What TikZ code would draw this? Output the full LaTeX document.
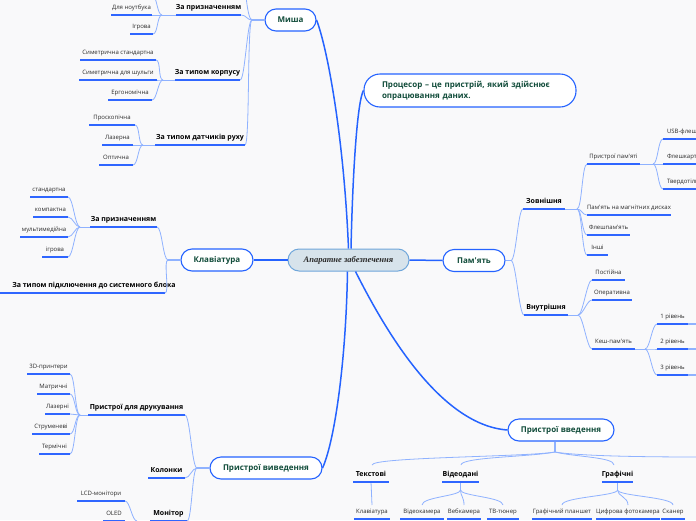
\documentclass[tikz,border=0pt]{standalone}
\usepackage{fontspec}
\usetikzlibrary{calc}
\newfontfamily\osans{Open Sans}
\newfontfamily\lserif{Liberation Serif}
\definecolor{bgc}{HTML}{F9F9FA}
\definecolor{mainblue}{HTML}{2563FF}
\definecolor{ulblue}{HTML}{2F66FF}
\definecolor{lightb}{HTML}{8FB2FF}
\definecolor{dkgreen}{HTML}{124D3B}
\definecolor{txt}{HTML}{2A2A2A}
\definecolor{ctrfill}{HTML}{D7E3EB}
\definecolor{ctrdraw}{HTML}{6FA6DA}
\newcommand\lcurve[2]{\draw[con] (#1) .. controls +(-5,0) and +(5,0) .. (#2);}
\newcommand\rcurve[2]{\draw[con] (#1) .. controls +(5,0) and +(-5,0) .. (#2);}
\newcommand\dcurve[2]{\draw[con] (#1) .. controls +(0,6) and +(0,-8) .. (#2);}
\begin{document}
\begin{tikzpicture}[x=1pt,y=-1pt,
  mainbox/.style={draw=mainblue,line width=1.1pt,fill=white,rounded corners=11pt,font=\osans\bfseries\fontsize{8}{10}\selectfont,text=dkgreen,minimum height=22pt,inner sep=0pt},
  leaf/.style={anchor=south,font=\osans\fontsize{6}{7}\selectfont,text=txt,inner xsep=0pt,inner ysep=4pt,text height=4.5pt,text depth=1.5pt,outer sep=0pt},
  mid/.style={leaf,font=\osans\bfseries\fontsize{7}{8}\selectfont,text=black},
  ul/.style={draw=ulblue,line width=1.6pt},
  con/.style={draw=lightb,line width=0.8pt},
  stub/.style={draw=lightb,line width=1.3pt},
  mainline/.style={draw=mainblue,line width=1.5pt}]
\useasboundingbox (0,0) rectangle (696,520);
\fill[bgc] (0,0) rectangle (696,520);
\clip (0,0) rectangle (696,520);

% ---------- main nodes
\node[draw=ctrdraw,line width=1pt,fill=ctrfill,rounded corners=11pt,minimum width=121pt,minimum height=22pt,inner sep=0pt,font=\lserif\bfseries\itshape\fontsize{8.5}{10}\selectfont,text=txt] (ctr) at (348.5,260) {Апаратне забезпечення};
\node[mainbox,minimum width=51pt] (mysha) at (290.5,20) {Миша};
\node[mainbox,minimum width=212pt,minimum height=33pt,rounded corners=16pt,text width=176pt,inner xsep=18pt,align=left,font=\osans\bfseries\fontsize{8}{11}\selectfont] (proc) at (470,90.5) {Процесор – це пристрій, який здійснює\\опрацювання даних.};
\node[mainbox,minimum width=72pt] (klav) at (217,260) {Клавіатура};
\node[mainbox,minimum width=62pt] (pam) at (474,260.5) {Пам'ять};
\node[mainbox,minimum width=112pt] (vyv) at (266,468) {Пристрої виведення};
\node[mainbox,minimum width=106pt] (vv) at (561,430) {Пристрої введення};

\draw[mainline] (ctr.west) -- (klav.east);
\draw[mainline] (ctr.east) -- (pam.west);
\draw[mainline] (ctr.north) .. controls (344,140) and (328,50) .. (mysha.east);
\draw[mainline] ($(ctr.north)+(2.5,0)$) .. controls (353,160) and (358,100) .. (proc.west);
\draw[mainline] ($(ctr.south)+(-1,0)$) .. controls (346,360) and (335,440) .. (vyv.east);
\draw[mainline] ($(ctr.south)+(7,0)$) .. controls (385,330) and (440,425) .. (vv.west);

% ---------- Миша
\coordinate (Jm) at (252,20);
\draw[stub] (mysha.west) -- (Jm);
\node[mid,minimum width=63pt] (mz) at (208.5,15) {За призначенням};
\node[mid,minimum width=65pt] (mk) at (207.5,80) {За типом корпусу};
\node[mid,minimum width=90pt] (md) at (200,145) {За типом датчиків руху};
\coordinate (mtop) at (244,-40);
\draw[con] (Jm) .. controls +(-5,0) and +(0,20) .. (mtop);
\lcurve{Jm}{mz.south east}
\lcurve{Jm}{mk.south east}
\lcurve{Jm}{md.south east}

\coordinate (J1) at (162,15);
\draw[con] (J1) -- (mz.south west);
\node[leaf,minimum width=41pt] (mz1) at (131.5,15) {Для ноутбука};
\node[leaf,minimum width=23pt] (mz2) at (141.5,34) {Ігрова};
\coordinate (mz0) at (152,-5);
\lcurve{J1}{mz0}
\lcurve{J1}{mz1.south east}
\lcurve{J1}{mz2.south east}

\coordinate (J2) at (163,80);
\draw[con] (J2) -- (mk.south west);
\node[leaf,minimum width=76pt] (mk1) at (118,60) {Симетрична стандартна};
\node[leaf,minimum width=78pt] (mk2) at (118,80) {Симетрична для шульги};
\node[leaf,minimum width=44pt] (mk3) at (130,100) {Ергономічна};
\lcurve{J2}{mk1.south east}
\lcurve{J2}{mk2.south east}
\lcurve{J2}{mk3.south east}

\coordinate (J3) at (143,145);
\draw[con] (J3) -- (md.south west);
\node[leaf,minimum width=46pt] (md1) at (112,125) {Проскопічна};
\node[leaf,minimum width=31pt] (md2) at (117.5,145) {Лазерна};
\node[leaf,minimum width=34pt] (md3) at (116,165) {Оптична};
\lcurve{J3}{md1.south east}
\lcurve{J3}{md2.south east}
\lcurve{J3}{md3.south east}

% ---------- Клавіатура
\coordinate (Jk) at (168,260);
\draw[stub] (klav.west) -- (Jk);
\node[mid,minimum width=67pt] (kz) at (123.5,227) {За призначенням};
\coordinate (kpL) at (-2,293);
\coordinate (kpR) at (165,293);
\node[mid] (kp) at (94,293) {За типом підключення до системного блока};
\draw[ul] (kpL) -- (kpR);
\lcurve{Jk}{kz.south east}
\lcurve{Jk}{kpR}

\coordinate (J4) at (80,227);
\draw[con] (J4) -- (kz.south west);
\node[leaf,minimum width=38pt] (k1) at (49,197) {стандартна};
\node[leaf,minimum width=35pt] (k2) at (50.5,217) {компактна};
\node[leaf,minimum width=48pt] (k3) at (44,237) {мультимедійна};
\node[leaf,minimum width=26pt] (k4) at (55,257) {ігрова};
\lcurve{J4}{k1.south east}
\lcurve{J4}{k2.south east}
\lcurve{J4}{k3.south east}
\lcurve{J4}{k4.south east}

% ---------- Пристрої виведення
\coordinate (Jv) at (197,468);
\draw[stub] (vyv.west) -- (Jv);
\node[mid,minimum width=97pt] (vp) at (136.5,415) {Пристрої для друкування};
\node[mid,minimum width=37pt] (vk) at (166.5,478) {Колонки};
\node[mid,minimum width=37pt] (vm) at (168.5,521) {Монітор};
\lcurve{Jv}{vp.south east}
\lcurve{Jv}{vk.south east}
\lcurve{Jv}{vm.south east}

\coordinate (J5) at (80,415);
\draw[con] (J5) -- (vp.south west);
\node[leaf,minimum width=43pt] (p1) at (48.5,374) {3D-принтери};
\node[leaf,minimum width=33pt] (p2) at (53.5,394) {Матричні};
\node[leaf,minimum width=25pt] (p3) at (57.5,414) {Лазерні};
\node[leaf,minimum width=38pt] (p4) at (51,434) {Струменеві};
\node[leaf,minimum width=31pt] (p5) at (54.5,454) {Термічні};
\lcurve{J5}{p1.south east}
\lcurve{J5}{p2.south east}
\lcurve{J5}{p3.south east}
\lcurve{J5}{p4.south east}
\lcurve{J5}{p5.south east}

\coordinate (J6) at (137,521);
\draw[con] (J6) -- (vm.south west);
\node[leaf,minimum width=48pt] (m1) at (101,501) {LCD-монітори};
\node[leaf,minimum width=22pt] (m2) at (114,521) {OLED};
\lcurve{J6}{m1.south east}
\lcurve{J6}{m2.south east}

% ---------- Пам'ять
\coordinate (Jp) at (511,260.5);
\draw[stub] (pam.east) -- (Jp);
\node[mid,minimum width=42pt] (pz) at (544,209) {Зовнішня};
\node[mid,minimum width=44pt] (pv) at (546,315) {Внутрішня};
\rcurve{Jp}{pz.south west}
\rcurve{Jp}{pv.south west}

\coordinate (J7) at (577,209);
\draw[con] (pz.south east) -- (J7);
\node[leaf,minimum width=53pt] (z1) at (613.5,164) {Пристрої пам'яті};
\node[leaf,minimum width=84pt] (z2) at (629,215) {Пам'ять на магнітних дисках};
\node[leaf,minimum width=43pt] (z3) at (608.5,235) {Флешпам'ять};
\node[leaf,minimum width=21pt] (z4) at (597.5,255) {Інші};
\rcurve{J7}{z1.south west}
\rcurve{J7}{z2.south west}
\rcurve{J7}{z3.south west}
\rcurve{J7}{z4.south west}

\coordinate (J9) at (653,164);
\draw[con] (z1.south east) -- (J9);
\node[leaf,anchor=south west,inner xsep=4pt] (u1) at (663,139) {USB-флеш-накопичувачі};
\node[leaf,anchor=south west,inner xsep=4pt] (u2) at (663,164) {Флешкарти};
\node[leaf,anchor=south west,inner xsep=4pt] (u3) at (663,189) {Твердотільні накопичувачі};
\rcurve{J9}{u1.south west}
\rcurve{J9}{u2.south west}
\rcurve{J9}{u3.south west}

\coordinate (J8) at (578,315);
\draw[con] (pv.south east) -- (J8);
\node[leaf,minimum width=33pt] (i1) at (608.5,280) {Постійна};
\node[leaf,minimum width=40pt] (i2) at (612,300) {Оперативна};
\node[leaf,minimum width=43pt] (i3) at (613.5,349) {Кеш-пам'ять};
\rcurve{J8}{i1.south west}
\rcurve{J8}{i2.south west}
\rcurve{J8}{i3.south west}

\coordinate (J10) at (645,349);
\draw[con] (i3.south east) -- (J10);
\node[leaf,minimum width=31pt] (c1) at (672.5,324) {1 рівень};
\node[leaf,minimum width=31pt] (c2) at (672.5,349) {2 рівень};
\node[leaf,minimum width=31pt] (c3) at (672.5,375) {3 рівень};
\rcurve{J10}{c1.south west}
\rcurve{J10}{c2.south west}
\rcurve{J10}{c3.south west}
\foreach \n in {c1,c2,c3} \draw[con,line width=1.6pt] (\n.south east) -- ++(20,0);

% ---------- Пристрої введення
\coordinate (Jn) at (555,452);
\draw[stub] (vv.south -| Jn) -- (Jn);
\node[mid,minimum width=36pt] (tx) at (371,482) {Текстові};
\node[mid,minimum width=37pt] (vd) at (460.5,482) {Відеодані};
\node[mid,minimum width=31pt] (gr) at (617.5,482) {Графічні};
\coordinate (txT) at (372,465);
\coordinate (vdT) at (461,465);
\coordinate (grT) at (614,465);
\coordinate (rOff) at (705,457);
\draw[con] (Jn) .. controls +(-30,5) and +(0,-8) .. (txT);
\draw[con] (Jn) .. controls +(-25,5) and +(0,-8) .. (vdT);
\draw[con] (Jn) .. controls +(20,5) and +(0,-8) .. (grT);
\draw[con] (Jn) .. controls +(30,5) and +(-30,0) .. (rOff);

\node[leaf,minimum width=36pt] (tk) at (372,519) {Клавіатура};
\draw[con] (tx.south) -- (tk.north);

\coordinate (Jvd) at (460.5,490);
\draw[con] (vd.south) -- (Jvd);
\node[leaf,minimum width=44pt] (v1) at (422,519) {Відеокамера};
\node[leaf,minimum width=34pt] (v2) at (464,519) {Вебкамера};
\node[leaf,minimum width=32pt] (v3) at (503,519) {ТВ-тюнер};
\dcurve{Jvd}{v1.north}
\dcurve{Jvd}{v2.north}
\dcurve{Jvd}{v3.north}

\coordinate (Jg) at (617.5,490);
\draw[con] (gr.south) -- (Jg);
\node[leaf,minimum width=60pt] (g1) at (562,519) {Графічний планшет};
\node[leaf,minimum width=64pt] (g2) at (628,519) {Цифрова фотокамера};
\node[leaf,minimum width=24pt] (g3) at (673,519) {Сканер};
\dcurve{Jg}{g1.north}
\dcurve{Jg}{g2.north}
\dcurve{Jg}{g3.north}

% ---------- underlines
\foreach \n in {mz,mk,md,mz1,mz2,mk1,mk2,mk3,md1,md2,md3,kz,k1,k2,k3,k4,vp,vk,vm,p1,p2,p3,p4,p5,m1,m2,pz,pv,z1,z2,z3,z4,u1,u2,u3,i1,i2,i3,c1,c2,c3,tx,vd,gr,tk,v1,v2,v3,g1,g2,g3}
  \draw[ul] (\n.south west) -- (\n.south east);
\end{tikzpicture}
\end{document}
